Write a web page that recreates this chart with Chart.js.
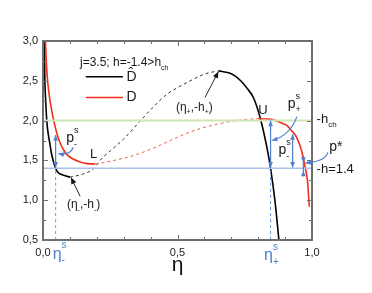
<!DOCTYPE html>
<html>
<head>
<script src="https://cdn.jsdelivr.net/npm/chart.js"></script>
<style>body{margin:0;background:#fff}</style>
</head>
<body>
<canvas id="chart" width="372" height="293"></canvas>
<script>
// D hat (black), stable left branch, unstable middle (dashed), right branch
var dHatLeftEta = [0.005, 0.007, 0.010, 0.014, 0.020, 0.026, 0.032, 0.040, 0.047, 0.055, 0.065, 0.080, 0.100];
var dHatLeftVal = [3.00, 2.50, 2.25, 2.00, 1.82, 1.70, 1.58, 1.47, 1.40, 1.35, 1.33, 1.31, 1.29];
var dHatMidEta = [0.100, 0.150, 0.190, 0.212, 0.250, 0.274, 0.300, 0.360, 0.410, 0.460, 0.509, 0.559, 0.605, 0.654];
var dHatMidVal = [1.29, 1.33, 1.40, 1.50, 1.62, 1.69, 1.77, 1.99, 2.17, 2.33, 2.43, 2.52, 2.59, 2.625];
var dHatRightEta = [0.654, 0.690, 0.712, 0.735, 0.760, 0.782, 0.807, 0.832, 0.846, 0.862, 0.877];
var dHatRightVal = [2.625, 2.60, 2.565, 2.50, 2.40, 2.29, 2.04, 1.67, 1.40, 1.00, 0.50];

// D (red)
var dLeftEta = [0.009, 0.013, 0.017, 0.026, 0.040, 0.050, 0.060, 0.075, 0.090, 0.110, 0.138, 0.165, 0.195];
var dLeftVal = [3.00, 2.70, 2.50, 2.25, 2.00, 1.86, 1.75, 1.64, 1.57, 1.52, 1.48, 1.46, 1.455];
var dMidEta = [0.195, 0.237, 0.290, 0.336, 0.400, 0.460, 0.520, 0.584, 0.640, 0.683, 0.740, 0.800];
var dMidVal = [1.455, 1.48, 1.52, 1.56, 1.64, 1.73, 1.82, 1.90, 1.95, 1.98, 2.01, 2.025];
var dRightEta = [0.800, 0.830, 0.856, 0.880, 0.906, 0.925, 0.943, 0.961, 0.974, 0.983, 0.990];
var dRightVal = [2.025, 2.02, 2.01, 1.98, 1.94, 1.87, 1.79, 1.625, 1.42, 1.25, 0.92];

var hChLevel = 2.0;    // -h_ch
var hLevel = 1.4;      // -h
var etaMinusS = 0.047; // eta^s_-
var etaPlusS = 0.846;  // eta^s_+

var xTickLabels = [0, 0.5, 1.0];
var yTickLabels = [0.5, 1.0, 1.5, 2.0, 2.5, 3.0];

function pts(xs, ys) { return xs.map(function (x, i) { return { x: x, y: ys[i] }; }); }

var FONT = '"Liberation Sans", Arial, sans-serif';
var BLUE = '#4f7fcf';

function rich(ctx, parts, x, y, size, color) {
    // parts: [text, 'n'|'sup'|'sub']
    ctx.fillStyle = color;
    ctx.textBaseline = 'middle';
    ctx.textAlign = 'left';
    var cx = x;
    parts.forEach(function (p) {
        var s = p[1] === 'n' ? size : Math.round(size * 0.62);
        var dy = p[1] === 'sup' ? -size * 0.55 : (p[1] === 'sub' ? size * 0.4 : 0);
        ctx.font = s + 'px ' + FONT;
        ctx.fillText(p[0], cx, y + dy);
        if (p[1] !== 'sup') cx += ctx.measureText(p[0]).width;
    });
}

function head(ctx, x1, y1, x2, y2, len, color) {
    var a = Math.atan2(y2 - y1, x2 - x1);
    ctx.fillStyle = color;
    ctx.beginPath();
    ctx.moveTo(x2, y2);
    ctx.lineTo(x2 - len * Math.cos(a - 0.4), y2 - len * Math.sin(a - 0.4));
    ctx.lineTo(x2 - len * Math.cos(a + 0.4), y2 - len * Math.sin(a + 0.4));
    ctx.closePath();
    ctx.fill();
}

var decor = {
    id: 'decor',
    afterDraw: function (chart) {
        var ctx = chart.ctx, xs = chart.scales.x, ys = chart.scales.y, a = chart.chartArea;
        var X = function (v) { return xs.getPixelForValue(v); };
        var Y = function (v) { return ys.getPixelForValue(v); };
        ctx.save();

        // frame + inward ticks
        ctx.strokeStyle = '#6f6f6f';
        ctx.lineWidth = 2;
        ctx.strokeRect(a.left, a.top, a.right - a.left, a.bottom - a.top);
        ctx.lineWidth = 1;
        ctx.beginPath();
        for (var i = 0; i <= 10; i++) {
            var px = Math.round(X(i / 10)) + 0.5, l = i % 5 === 0 ? 5 : 3;
            ctx.moveTo(px, a.bottom); ctx.lineTo(px, a.bottom - l);
            ctx.moveTo(px, a.top); ctx.lineTo(px, a.top + l);
        }
        for (var j = 0; j <= 10; j++) {
            var py = Math.round(Y(0.5 + j * 0.25)) + 0.5, m = j % 2 === 0 ? 5 : 3;
            ctx.moveTo(a.left, py); ctx.lineTo(a.left + m, py);
            ctx.moveTo(a.right, py); ctx.lineTo(a.right - m, py);
        }
        ctx.stroke();

        // blue double arrows
        ctx.strokeStyle = BLUE; ctx.lineWidth = 1.2;
        [[etaMinusS, 1.41, 1.82], [etaPlusS, 1.41, 2.0], [0.928, 1.41, 1.83]].forEach(function (d) {
            ctx.beginPath(); ctx.moveTo(X(d[0]), Y(d[1])); ctx.lineTo(X(d[0]), Y(d[2])); ctx.stroke();
            head(ctx, X(d[0]), Y(d[2]) - 5, X(d[0]), Y(d[1]), 6, BLUE);
            head(ctx, X(d[0]), Y(d[1]) + 5, X(d[0]), Y(d[2]), 6, BLUE);
        });
        // p* small arrows
        ctx.beginPath(); ctx.moveTo(X(0.968), Y(1.56)); ctx.lineTo(X(0.968), Y(1.30)); ctx.stroke();
        head(ctx, X(0.968), Y(1.56), X(0.968), Y(1.47), 6, BLUE);
        head(ctx, X(0.968), Y(1.30), X(0.968), Y(1.37), 6, BLUE);

        // curved blue pointers
        [[0.113, 1.666, 0.100, 1.560, 0.057, 1.584],
         [0.944, 2.050, 0.918, 1.810, 0.851, 1.750],
         [1.059, 1.600, 1.048, 1.480, 0.975, 1.470]].forEach(function (c) {
            ctx.beginPath();
            ctx.moveTo(X(c[0]), Y(c[1]));
            ctx.quadraticCurveTo(X(c[2]), Y(c[3]), X(c[4]), Y(c[5]));
            ctx.stroke();
            head(ctx, X(c[2]), Y(c[3]), X(c[4]), Y(c[5]), 6, BLUE);
        });

        // black pointers to extrema
        ctx.strokeStyle = '#222'; ctx.lineWidth = 1;
        [[0.602, 2.29, 0.652, 2.615], [0.138, 1.05, 0.104, 1.285]].forEach(function (p) {
            ctx.beginPath(); ctx.moveTo(X(p[0]), Y(p[1])); ctx.lineTo(X(p[2]), Y(p[3])); ctx.stroke();
            head(ctx, X(p[0]), Y(p[1]), X(p[2]), Y(p[3]), 7, '#111');
        });

        // legend
        ctx.lineWidth = 1.6;
        ctx.strokeStyle = '#000';
        ctx.beginPath(); ctx.moveTo(X(0.159), Y(2.55)); ctx.lineTo(X(0.297), Y(2.55)); ctx.stroke();
        ctx.strokeStyle = '#f2311d';
        ctx.beginPath(); ctx.moveTo(X(0.159), Y(2.29)); ctx.lineTo(X(0.297), Y(2.29)); ctx.stroke();
        var T = '#1a1a1a';
        rich(ctx, [['D\u0302', 'n']], X(0.31), Y(2.55), 14, T);
        rich(ctx, [['D', 'n']], X(0.31), Y(2.29), 14, T);

        // texts
        rich(ctx, [['j=3.5; h=-1.4>h', 'n'], ['ch', 'sub']], X(0.1375), Y(2.725), 12, T);
        rich(ctx, [['(\u03b7', 'n'], ['+', 'sub'], [',-h', 'n'], ['+', 'sub'], [')', 'n']], X(0.494), Y(2.166), 12, T);
        rich(ctx, [['U', 'n']], X(0.80), Y(2.125), 13, T);
        rich(ctx, [['p', 'n'], ['s', 'sup'], ['+', 'sub']], X(0.91), Y(2.21), 14, T);
        rich(ctx, [['-h', 'n'], ['ch', 'sub']], X(1.017), Y(2.01), 13, T);
        rich(ctx, [['p*', 'n']], X(1.064), Y(1.666), 14, T);
        rich(ctx, [['-h=1.4', 'n']], X(1.017), Y(1.39), 13, T);
        rich(ctx, [['p', 'n'], ['s', 'sup'], ['-', 'sub']], X(0.875), Y(1.625), 14, T);
        rich(ctx, [['L', 'n']], X(0.175), Y(1.575), 13, T);
        rich(ctx, [['p', 'n'], ['s', 'sup'], ['-', 'sub']], X(0.086), Y(1.775), 14, T);
        rich(ctx, [['(\u03b7', 'n'], ['-', 'sub'], [',-h', 'n'], ['-', 'sub'], [')', 'n']], X(0.089), Y(0.9375), 12, T);
        rich(ctx, [['\u03b7', 'n'], ['s', 'sup'], ['-', 'sub']], X(0.036), Y(0.32), 16, BLUE);
        rich(ctx, [['\u03b7', 'n'], ['s', 'sup'], ['+', 'sub']], X(0.822), Y(0.30), 16, BLUE);

        // axis title
        ctx.font = '21px ' + FONT;
        ctx.fillStyle = '#111';
        ctx.textAlign = 'center';
        ctx.textBaseline = 'middle';
        ctx.fillText('\u03b7', X(0.5), Y(0.18));
        ctx.restore();
    }
};

function line(data, color, width, dash) {
    return {
        data: data, borderColor: color, borderWidth: width, borderDash: dash || [],
        pointRadius: 0, fill: false, cubicInterpolationMode: 'monotone'
    };
}

var ctx = document.getElementById('chart').getContext('2d');
var chart = new Chart(ctx, {
    type: 'line',
    data: {
        datasets: [
            line(pts([0, 1], [hChLevel, hChLevel]), '#cfe6b6', 2),
            line(pts([0, 1], [hLevel, hLevel]), '#a9c2ea', 1.5),
            line(pts([etaMinusS, etaMinusS], [0.5, hLevel]), '#6f95dc', 1, [3, 3]),
            line(pts([etaPlusS, etaPlusS], [0.5, hLevel]), '#6f95dc', 1, [3, 3]),
            line(pts(dMidEta, dMidVal), '#f2604c', 1, [3, 3]),
            line(pts(dHatMidEta, dHatMidVal), '#333', 1, [3, 3]),
            line(pts(dLeftEta, dLeftVal), '#f2311d', 1.6),
            line(pts(dRightEta, dRightVal), '#f2311d', 1.6),
            line(pts(dHatLeftEta, dHatLeftVal), '#000', 1.6),
            line(pts(dHatRightEta, dHatRightVal), '#000', 1.6)
        ]
    },
    options: {
        responsive: false,
        animation: false,
        layout: { padding: { top: 41, right: 60, left: 0, bottom: 0 } },
        plugins: { legend: { display: false }, tooltip: { enabled: false } },
        scales: {
            x: {
                type: 'linear', min: 0, max: 1,
                afterBuildTicks: function (s) { s.ticks = xTickLabels.map(function (v) { return { value: v }; }); },
                afterFit: function (s) { s.height = 53; },
                ticks: {
                    callback: function (v) { return v.toFixed(1).replace('.', ','); },
                    font: { family: FONT, size: 11 }, color: '#222', padding: 6, maxRotation: 0, autoSkip: false
                },
                grid: { display: false, drawTicks: false },
                border: { display: false }
            },
            y: {
                type: 'linear', min: 0.5, max: 3.0,
                afterBuildTicks: function (s) { s.ticks = yTickLabels.map(function (v) { return { value: v }; }); },
                afterFit: function (s) { s.width = 43; },
                ticks: {
                    callback: function (v) { return v.toFixed(1).replace('.', ','); },
                    font: { family: FONT, size: 11 }, color: '#222', padding: 5, autoSkip: false
                },
                grid: { display: false, drawTicks: false },
                border: { display: false }
            }
        }
    },
    plugins: [decor]
});
</script>
</body>
</html>
